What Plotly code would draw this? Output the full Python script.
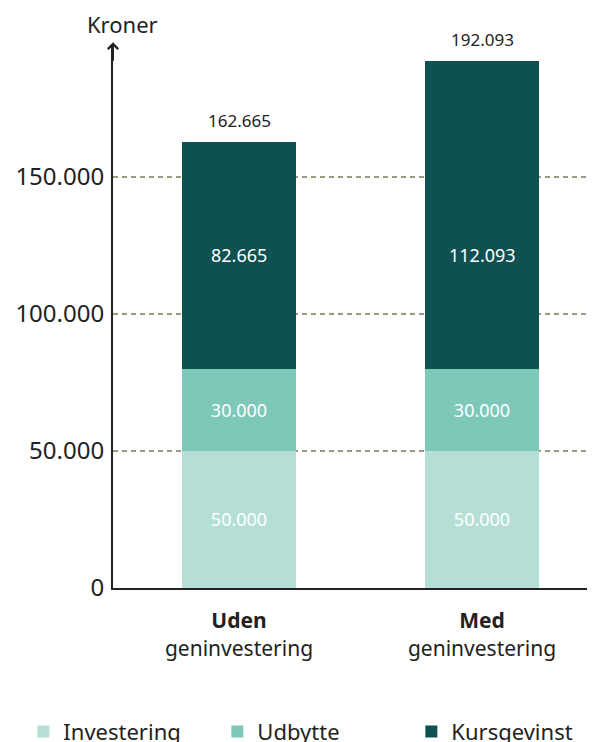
import plotly.graph_objects as go

categories = ["Uden", "Med"]
tick_labels = ["<b>Uden</b><br>geninvestering", "<b>Med</b><br>geninvestering"]
investering = [50000, 50000]
udbytte = [30000, 30000]
kursgevinst = [82665, 112093]
totals = [a + b + c for a, b, c in zip(investering, udbytte, kursgevinst)]
y_ticks = [0, 50000, 100000, 150000]

FONT = "Noto Sans"
DARK = "#222222"

def fmt(v):
    return f"{v:,d}".replace(",", ".")

fig = go.Figure()
series = [
    ("Investering", investering, "#B5DFD6", True),
    ("Udbytte", udbytte, "#7EC8BA", True),
    ("Kursgevinst", kursgevinst, "#0F5050", False),
]
for name, vals, col, show_text in series:
    fig.add_trace(go.Bar(
        x=categories, y=vals, name=name, marker=dict(color=col, line=dict(width=0)),
        width=0.47, texttemplate="%{y:,d}" if show_text else None,
        textposition="inside" if show_text else "none",
        insidetextanchor="middle",
        textfont=dict(family=FONT, size=18, color="white"),
        hoverinfo="skip",
    ))

# Kursgevinst labels sit at the same height in both bars (as in the source chart)
label_y = investering[0] + udbytte[0] + min(kursgevinst) / 2
for c, v in zip(categories, kursgevinst):
    fig.add_annotation(x=c, y=label_y, text=fmt(v), showarrow=False,
                       font=dict(family=FONT, size=18, color="white"))

for c, t in zip(categories, totals):
    fig.add_annotation(x=c, y=t, text=fmt(t), showarrow=False,
                       yanchor="bottom", yshift=8,
                       font=dict(family=FONT, size=17, color=DARK))

fig.add_annotation(xref="paper", yref="paper", x=0, y=1, text="Kroner", showarrow=False,
                   xanchor="center", yanchor="middle", xshift=9, yshift=21,
                   font=dict(family=FONT, size=22, color=DARK))

# axis arrow head
fig.add_annotation(xref="paper", yref="paper", x=0, y=1.005, ax=0, ay=20, text="",
                   showarrow=True, arrowhead=4, arrowsize=1, arrowwidth=2, arrowcolor=DARK)

fig.update_layout(
    width=595, height=742,
    margin=dict(l=105, r=8, t=37, b=162, autoexpand=False),
    barmode="stack",
    separators=",.",
    plot_bgcolor="white", paper_bgcolor="white",
    showlegend=True,
    legend=dict(orientation="h", x=-0.186, xanchor="left", y=-0.226, yanchor="top",
                font=dict(family=FONT, size=22, color=DARK),
                entrywidth=149, entrywidthmode="pixels", traceorder="normal"),
    xaxis=dict(range=[-0.5185, 1.465], showline=True, linecolor=DARK, linewidth=2,
               tickmode="array", tickvals=categories, ticktext=tick_labels,
               ticks="", ticklabelstandoff=13,
               tickfont=dict(family=FONT, size=21, color=DARK),
               showgrid=False, fixedrange=True, automargin=False),
    yaxis=dict(range=[0, 198000], showline=True, linecolor=DARK, linewidth=2,
               tickmode="array", tickvals=y_ticks, tickformat=",d",
               ticks="", ticklabelstandoff=2, automargin=False,
               tickfont=dict(family=FONT, size=24, color=DARK),
               showgrid=True, gridcolor="#939E84", griddash="5px,4px", gridwidth=1.5,
               zeroline=False),
)

fig.write_html("out.html")
